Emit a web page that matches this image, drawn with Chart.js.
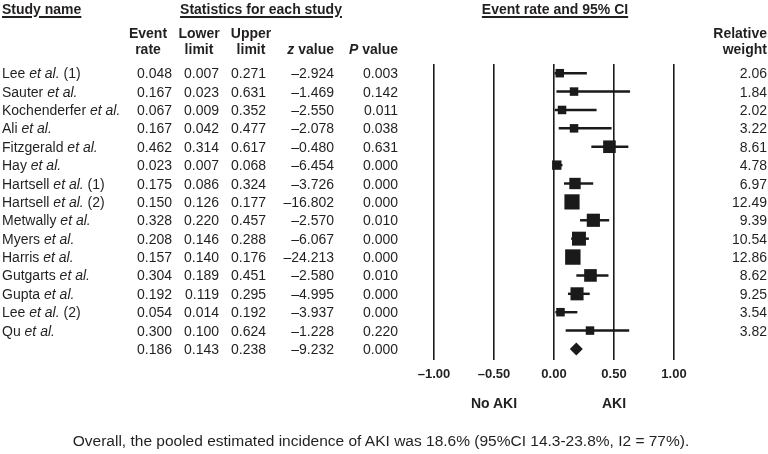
<!DOCTYPE html>
<html>
<head>
<meta charset="utf-8">
<script src="https://cdn.jsdelivr.net/npm/chart.js@4.4.0/dist/chart.umd.min.js"></script>
<style>
  body { margin: 0; background: #fff; }
  #wrap { position: relative; width: 768px; height: 454px; font-family: 'Liberation Sans', Arial, sans-serif; color: #231f20; }
  #plot { position: absolute; left: 0; top: 0; }
  .t { position: absolute; font-size: 14px; line-height: 18px; white-space: nowrap; }
  .b { font-weight: bold; }
  .u { text-decoration: underline; text-underline-offset: 2px; text-decoration-thickness: 1.5px; }
  .r { transform: translateX(-100%); }
  .c { transform: translateX(-50%); }
  .note { font-size: 15.5px; }
</style>
</head>
<body>
<div id="wrap">
  <canvas id="plot" width="768" height="454"></canvas>
</div>
<script>
// study rows
const studies = ['Lee et al. (1)', 'Sauter et al.', 'Kochenderfer et al.', 'Ali et al.', 'Fitzgerald et al.',
  'Hay et al.', 'Hartsell et al. (1)', 'Hartsell et al. (2)', 'Metwally et al.', 'Myers et al.',
  'Harris et al.', 'Gutgarts et al.', 'Gupta et al.', 'Lee et al. (2)', 'Qu et al.'];
const eventRate = [0.048, 0.167, 0.067, 0.167, 0.462, 0.023, 0.175, 0.150, 0.328, 0.208, 0.157, 0.304, 0.192, 0.054, 0.300];
const lowerLimit = [0.007, 0.023, 0.009, 0.042, 0.314, 0.007, 0.086, 0.126, 0.220, 0.146, 0.140, 0.189, 0.119, 0.014, 0.100];
const upperLimit = [0.271, 0.631, 0.352, 0.477, 0.617, 0.068, 0.324, 0.177, 0.457, 0.288, 0.176, 0.451, 0.295, 0.192, 0.624];
const zValue = [-2.924, -1.469, -2.550, -2.078, -0.480, -6.454, -3.726, -16.802, -2.570, -6.067, -24.213, -2.580, -4.995, -3.937, -1.228];
const pValue = [0.003, 0.142, 0.011, 0.038, 0.631, 0.000, 0.000, 0.000, 0.010, 0.000, 0.000, 0.010, 0.000, 0.000, 0.220];
const relWeight = [2.06, 1.84, 2.02, 3.22, 8.61, 4.78, 6.97, 12.49, 9.39, 10.54, 12.86, 8.62, 9.25, 3.54, 3.82];

// pooled estimate: event rate, lower, upper, z, p
const pooled = [0.186, 0.143, 0.238, -9.232, 0.000];

const xTicks = [-1, -0.5, 0, 0.5, 1];
const xTickLabels = ['–1.00', '–0.50', '0.00', '0.50', '1.00'];

const fmt = v => (v < 0 ? '–' : '') + Math.abs(v).toFixed(3);

const ctx = document.getElementById('plot').getContext('2d');
const chart = new Chart(ctx, {
    data: {
        datasets: [
            {
                type: 'bar',
                indexAxis: 'y',
                data: studies.map((s, i) => ({ x: [lowerLimit[i], upperLimit[i]], y: i })),
                backgroundColor: '#1a1a1a',
                borderWidth: 0,
                barThickness: 1.8,
                order: 2
            },
            {
                type: 'scatter',
                data: studies.map((s, i) => ({ x: eventRate[i], y: i })),
                pointStyle: 'rect',
                pointRadius: relWeight.map(w => Math.max(8.5, 4.3 * Math.sqrt(w)) / Math.SQRT2),
                pointBackgroundColor: '#1a1a1a',
                pointBorderWidth: 0,
                order: 1
            },
            {
                type: 'scatter',
                data: [{ x: pooled[0], y: studies.length }],
                pointStyle: 'rectRot',
                pointRadius: 6.5,
                pointBackgroundColor: '#1a1a1a',
                pointBorderWidth: 0,
                order: 1
            }
        ]
    },
    options: {
        responsive: false,
        animation: false,
        layout: { padding: { left: 434, right: 94, top: 64, bottom: 0 } },
        plugins: {
            legend: { display: false },
            tooltip: { enabled: false }
        },
        scales: {
            x: {
                type: 'linear',
                min: -1,
                max: 1,
                afterBuildTicks: scale => { scale.ticks = xTicks.map(v => ({ value: v })); },
                afterFit: scale => { scale.height = 94; },
                ticks: {
                    callback: (v, i) => xTickLabels[i],
                    font: { family: "'Liberation Sans', Arial", weight: 'bold', size: 13 },
                    color: '#231f20',
                    padding: 7,
                    maxRotation: 0
                },
                grid: { color: '#1a1a1a', lineWidth: 1.6, drawTicks: false },
                border: { display: false }
            },
            y: {
                type: 'linear',
                display: false,
                reverse: true,
                offset: false,
                min: -0.5,
                max: 15.6
            }
        }
    }
});

// table text, placed on the chart's own row positions
const wrap = document.getElementById('wrap');
function addText(html, x, y, cls) {
    const el = document.createElement('div');
    el.className = 't ' + (cls || '');
    el.innerHTML = html;
    el.style.left = x + 'px';
    el.style.top = (y - 9) + 'px';
    wrap.appendChild(el);
}

addText('Study name', 2, 8.5, 'b u');
addText('Statistics for each study', 261, 8.5, 'b u c');
addText('Event rate and 95% CI', 555, 8.5, 'b u c');
addText('Event', 148, 33, 'b c');
addText('rate', 148, 49, 'b c');
addText('Lower', 199, 33, 'b c');
addText('limit', 199, 49, 'b c');
addText('Upper', 251, 33, 'b c');
addText('limit', 251, 49, 'b c');
addText('<i>z</i> value', 334, 49, 'b r');
addText('<i>P</i> value', 398, 49, 'b r');
addText('Relative', 767, 33, 'b r');
addText('weight', 767, 49, 'b r');

const yScale = chart.scales.y;
const xScale = chart.scales.x;
studies.forEach((s, i) => {
    const y = yScale.getPixelForValue(i);
    addText(s.replace('et al.', '<i>et al.</i>'), 2, y);
    addText(fmt(eventRate[i]), 172, y, 'r');
    addText(fmt(lowerLimit[i]), 219, y, 'r');
    addText(fmt(upperLimit[i]), 266, y, 'r');
    addText(fmt(zValue[i]), 334, y, 'r');
    addText(fmt(pValue[i]), 398, y, 'r');
    addText(relWeight[i].toFixed(2), 767, y, 'r');
});
const yp = yScale.getPixelForValue(studies.length);
[172, 219, 266, 334, 398].forEach((x, k) => addText(fmt(pooled[k]), x, yp, 'r'));

addText('No AKI', xScale.getPixelForValue(-0.5), 403, 'b c');
addText('AKI', xScale.getPixelForValue(0.5), 403, 'b c');

addText('Overall, the pooled estimated incidence of AKI was 18.6% (95%CI 14.3-23.8%, I2 = 77%).', 381, 441, 'note c');
</script>
</body>
</html>
